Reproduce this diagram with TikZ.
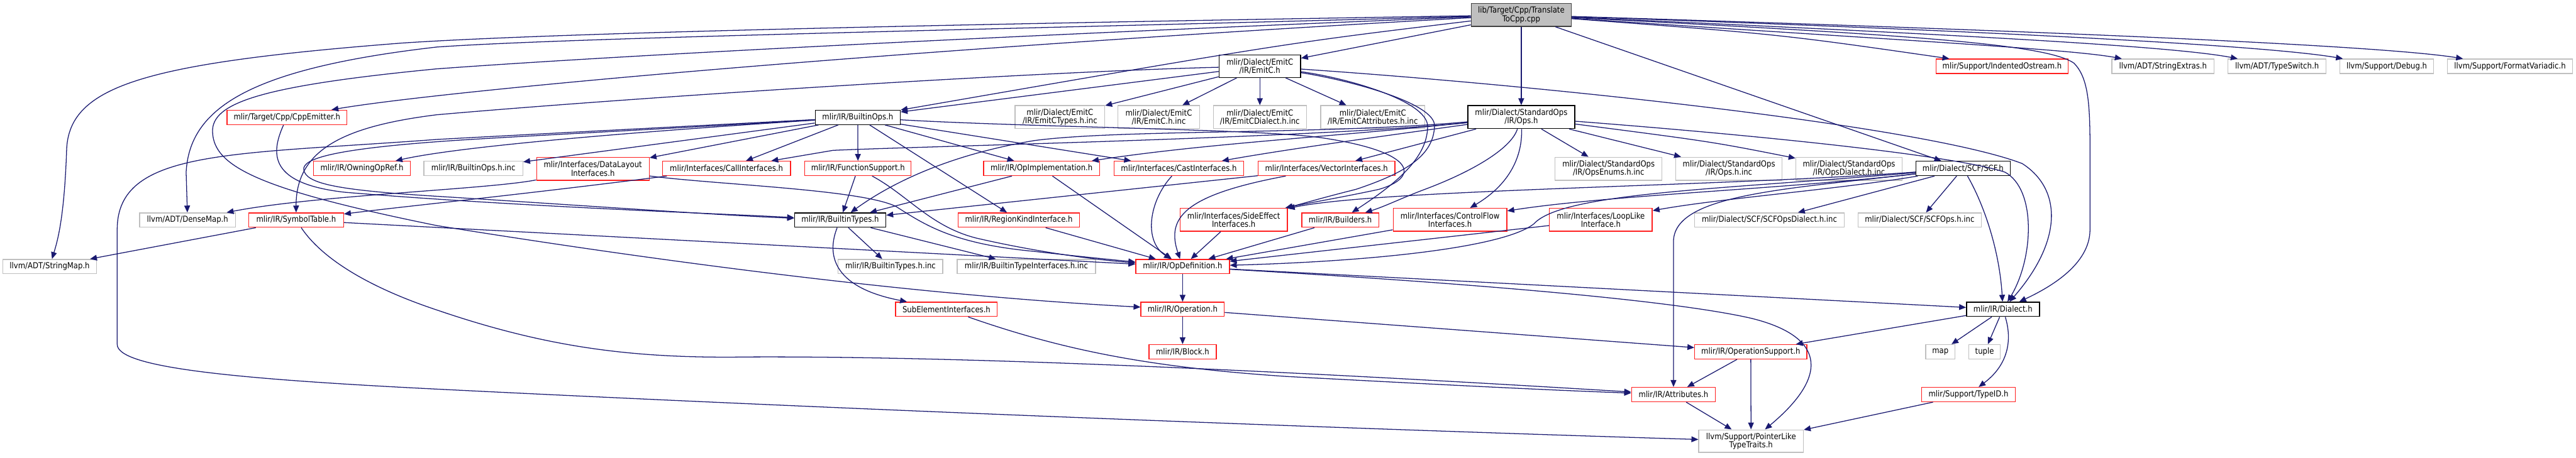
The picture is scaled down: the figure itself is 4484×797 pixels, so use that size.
\documentclass[tikz,border=0pt]{standalone}
\usepackage{fontspec}
\setmainfont{DejaVu Sans}[FakeStretch=0.88]
\usetikzlibrary{arrows.meta}
\definecolor{edgec}{RGB}{25,25,112}
\definecolor{grayb}{RGB}{191,191,191}
\definecolor{redb}{RGB}{255,30,30}
\definecolor{topb}{RGB}{64,64,64}
\begin{document}
\begin{tikzpicture}[x=1pt,y=-1pt,
  nb/.style={draw, line width=1.5pt, inner sep=0pt, minimum height=25pt, align=center,
             font=\fontsize{14.5}{14.5}\selectfont, fill=white},
  gb/.style={nb, draw=grayb},
  rb/.style={nb, draw=redb},
  kb/.style={nb, draw=black},
  tb/.style={nb, draw=topb, fill=grayb},
  two/.style={minimum height=40pt},
  e/.style={draw=edgec, line width=1.4pt, -{Triangle[length=12pt,width=10pt]}}]
\useasboundingbox (0,0) rectangle (4484,797);
% ---------- nodes ----------
\node[tb, two, minimum width=174pt] (T) at (2648,26) {lib/Target/Cpp/Translate\\ToCpp.cpp};
\node[kb, two, minimum width=142pt, minimum height=39pt] (EmitC) at (2193,115.5) {mlir/Dialect/EmitC\\/IR/EmitC.h};
\node[rb, minimum width=230pt] (IndOst) at (3485,115.5) {mlir/Support/IndentedOstream.h};
\node[gb, minimum width=178pt] (StrExt) at (3765,115.5) {llvm/ADT/StringExtras.h};
\node[gb, minimum width=171pt] (TypeSw) at (3963.5,115.5) {llvm/ADT/TypeSwitch.h};
\node[gb, minimum width=163pt] (Debug) at (4154.5,115.5) {llvm/Support/Debug.h};
\node[gb, minimum width=218pt] (FmtVar) at (4369,115.5) {llvm/Support/FormatVariadic.h};
\node[rb, minimum width=209pt] (CppEm) at (499.5,204.5) {mlir/Target/Cpp/CppEmitter.h};
\node[kb, minimum width=148pt] (BOps) at (1493,204.5) {mlir/IR/BuiltinOps.h};
\node[gb, two, minimum width=156pt] (EmTypes) at (1845,204) {mlir/Dialect/EmitC\\/IR/EmitCTypes.h.inc};
\node[gb, two, minimum width=142pt] (EmCinc) at (2017,204) {mlir/Dialect/EmitC\\/IR/EmitC.h.inc};
\node[gb, two, minimum width=162pt] (EmDial) at (2193,204) {mlir/Dialect/EmitC\\/IR/EmitCDialect.h.inc};
\node[gb, two, minimum width=181pt] (EmAttr) at (2389.5,204) {mlir/Dialect/EmitC\\/IR/EmitCAttributes.h.inc};
\node[kb, two, minimum width=186pt] (StdOps) at (2648,204) {mlir/Dialect/StandardOps\\/IR/Ops.h};
\node[rb, minimum width=168pt] (Owning) at (630,293.5) {mlir/IR/OwningOpRef.h};
\node[gb, minimum width=172pt] (BOpsInc) at (824,293.5) {mlir/IR/BuiltinOps.h.inc};
\node[rb, two, minimum width=196pt] (DataLay) at (1032,294) {mlir/Interfaces/DataLayout\\Interfaces.h};
\node[rb, minimum width=223pt] (CallIf) at (1264.5,293.5) {mlir/Interfaces/CallInterfaces.h};
\node[rb, minimum width=185pt] (FuncSup) at (1493.5,293.5) {mlir/IR/FunctionSupport.h};
\node[rb, minimum width=202pt] (OpImpl) at (1813,293.5) {mlir/IR/OpImplementation.h};
\node[rb, minimum width=226pt] (CastIf) at (2052,293.5) {mlir/Interfaces/CastInterfaces.h};
\node[rb, minimum width=238pt] (VecIf) at (2309,293.5) {mlir/Interfaces/VectorInterfaces.h};
\node[gb, two, minimum width=186pt] (OpsEnum) at (2800,294) {mlir/Dialect/StandardOps\\/IR/OpsEnums.h.inc};
\node[gb, two, minimum width=185pt] (OpsInc) at (3009.5,294) {mlir/Dialect/StandardOps\\/IR/Ops.h.inc};
\node[gb, two, minimum width=185pt] (OpsDial) at (3218.5,294) {mlir/Dialect/StandardOps\\/IR/OpsDialect.h.inc};
\node[kb, minimum width=164pt] (SCF) at (3417,293.5) {mlir/Dialect/SCF/SCF.h};
\node[gb, minimum width=167pt] (DenseMap) at (326.5,383.5) {llvm/ADT/DenseMap.h};
\node[rb, minimum width=165pt] (SymTab) at (515.5,383.5) {mlir/IR/SymbolTable.h};
\node[kb, minimum width=159pt] (BTypes) at (1462.5,383.5) {mlir/IR/BuiltinTypes.h};
\node[rb, minimum width=211pt] (RegionK) at (1773.5,383.5) {mlir/IR/RegionKindInterface.h};
\node[rb, two, minimum width=187pt] (SideEff) at (2147.5,383) {mlir/Interfaces/SideEffect\\Interfaces.h};
\node[rb, minimum width=134pt] (Builders) at (2333,383.5) {mlir/IR/Builders.h};
\node[rb, two, minimum width=198pt] (CtrlFlow) at (2524,383) {mlir/Interfaces/ControlFlow\\Interfaces.h};
\node[rb, two, minimum width=179pt] (LoopLike) at (2786.5,383) {mlir/Interfaces/LoopLike\\Interface.h};
\node[gb, minimum width=260pt] (SCFDial) at (3080,383.5) {mlir/Dialect/SCF/SCFOpsDialect.h.inc};
\node[gb, minimum width=215pt] (SCFOps) at (3341.5,383.5) {mlir/Dialect/SCF/SCFOps.h.inc};
\node[gb, minimum width=163pt] (StrMap) at (86.5,464.5) {llvm/ADT/StringMap.h};
\node[gb, minimum width=182pt] (BTypesInc) at (1550,464.5) {mlir/IR/BuiltinTypes.h.inc};
\node[gb, minimum width=241pt] (BTIfInc) at (1786.5,464.5) {mlir/IR/BuiltinTypeInterfaces.h.inc};
\node[rb, minimum width=163pt] (OpDef) at (2058.5,464.5) {mlir/IR/OpDefinition.h};
\node[rb, minimum width=177pt] (SubEl) at (1647.5,539) {SubElementInterfaces.h};
\node[rb, minimum width=145pt] (Operation) at (2058.5,539) {mlir/IR/Operation.h};
\node[kb, minimum width=127pt] (Dialect) at (3486.5,539) {mlir/IR/Dialect.h};
\node[rb, minimum width=117pt] (Block) at (2058.5,613) {mlir/IR/Block.h};
\node[rb, minimum width=195pt] (OpSupp) at (3047.5,613) {mlir/IR/OperationSupport.h};
\node[gb, minimum width=51pt] (map) at (3377.5,613) {map};
\node[gb, minimum width=55pt] (tuple) at (3454.5,613) {tuple};
\node[rb, minimum width=146pt] (Attr) at (2913,687.5) {mlir/IR/Attributes.h};
\node[rb, minimum width=163pt] (TypeID) at (3426.5,687.5) {mlir/Support/TypeID.h};
\node[gb, two, minimum width=182pt, minimum height=39pt] (PtrLike) at (3048,768.5) {llvm/Support/PointerLike\\TypeTraits.h};
% ---------- edges from the source file ----------
\draw[e] (T) -- (EmitC);
\draw[e] (T) -- (StdOps);
\draw[e] (T) -- (SCF);
\draw[e] (T) .. controls (2240,75) .. (BOps);
\draw[e] (T) .. controls (1500,90) and (760,160) .. (CppEm);
\draw[e] (T) .. controls (1800,40) and (1000,55) .. (700,75) .. controls (250,110) and (121,150) .. (116,260) .. controls (112,380) and (100,420) .. (StrMap);
\draw[e] (T) .. controls (1800,50) and (1000,65) .. (760,82) .. controls (430,120) and (330,190) .. (324,300) -- (DenseMap);
\draw[e] (T) .. controls (1800,60) and (1100,95) .. (760,120) .. controls (450,150) and (368,180) .. (370,230) .. controls (372,290) and (450,330) .. (760,393) .. controls (1300,480) and (1700,520) .. (Operation);
\draw[e] (T) .. controls (3100,60) .. (IndOst);
\draw[e] (T) .. controls (3300,70) and (3600,85) .. (StrExt);
\draw[e] (T) .. controls (3400,60) and (3780,80) .. (TypeSw);
\draw[e] (T) .. controls (3500,55) and (3950,80) .. (Debug);
\draw[e] (T) .. controls (3600,55) and (4150,80) .. (FmtVar);
\draw[e] (T) .. controls (3300,60) and (3560,75) .. (3610,110) .. controls (3640,140) and (3638,200) .. (3638,300) -- (3638,400) .. controls (3638,460) and (3570,500) .. (Dialect);
% ---------- EmitC.h ----------
\draw[e] (EmitC) -- (BOps);
\draw[e] (EmitC) -- (EmTypes);
\draw[e] (EmitC) -- (EmCinc);
\draw[e] (EmitC) -- (EmDial);
\draw[e] (EmitC) -- (EmAttr);
\draw[e] (EmitC) .. controls (1800,125) and (1100,170) .. (760,200) .. controls (600,220) and (515,260) .. (SymTab);
\draw[e] (EmitC) .. controls (2700,150) and (3350,220) .. (3520,285) .. controls (3590,330) and (3590,420) .. (Dialect);
\draw[e] (EmitC) .. controls (2350,140) and (2500,180) .. (2497,220) .. controls (2495,270) and (2450,300) .. (2360,330) .. controls (2300,345) and (2260,357) .. (SideEff);
\draw[e] (EmitC) .. controls (2340,135) and (2485,175) .. (2485,220) .. controls (2485,275) and (2430,320) .. (Builders);
% ---------- StandardOps/IR/Ops.h ----------
\draw[e] (StdOps) -- (OpsEnum);
\draw[e] (StdOps) -- (OpsInc);
\draw[e] (StdOps) .. controls (2980,247) .. (OpsDial);
\draw[e] (StdOps) .. controls (3050,235) and (3400,270) .. (3490,300) .. controls (3545,330) and (3540,450) .. (Dialect);
\draw[e] (StdOps) -- (VecIf);
\draw[e] (StdOps) .. controls (2630,260) and (2560,300) .. (2480,330) .. controls (2440,345) and (2410,360) .. (Builders);
\draw[e] (StdOps) .. controls (2650,270) and (2630,320) .. (CtrlFlow);
\draw[e] (StdOps) .. controls (2300,240) and (1600,255) .. (1450,262) -- (CallIf);
\draw[e] (StdOps) .. controls (2300,240) and (2100,250) .. (OpImpl);
\draw[e] (StdOps) .. controls (2350,245) and (2230,262) .. (CastIf);
\draw[e] (StdOps) .. controls (2300,235) and (1950,225) .. (1800,245) .. controls (1650,270) and (1550,320) .. (BTypes);
% ---------- BuiltinOps.h ----------
\draw[e] (BOps) .. controls (1100,225) and (850,238) .. (760,243) .. controls (400,270) and (204,260) .. (204,400) -- (204,600) .. controls (204,640) and (400,660) .. (760,678) .. controls (1600,720) and (2500,752) .. (PtrLike);
\draw[e] (BOps) .. controls (1100,228) and (850,240) .. (760,247) .. controls (560,262) and (520,280) .. (530,300) .. controls (540,322) and (600,332) .. (760,342) .. controls (1000,357) and (1250,375) .. (BTypes);
\draw[e] (BOps) .. controls (1100,230) and (800,255) .. (Owning);
\draw[e] (BOps) -- (BOpsInc);
\draw[e] (BOps) -- (DataLay);
\draw[e] (BOps) -- (CallIf);
\draw[e] (BOps) -- (FuncSup);
\draw[e] (BOps) -- (OpImpl);
\draw[e] (BOps) -- (CastIf);
\draw[e] (BOps) -- (RegionK);
\draw[e] (BOps) .. controls (1800,222) and (2200,225) .. (2300,240) .. controls (2470,265) and (2470,310) .. (2400,330) .. controls (2330,345) and (2270,355) .. (SideEff);
% ---------- CppEmitter.h ----------
\draw[e] (CppEm) .. controls (470,270) and (470,320) .. (600,335) .. controls (900,360) and (1250,372) .. (BTypes);
% ---------- level 3 ----------
\draw[e] (DataLay) .. controls (850,330) and (550,340) .. (DenseMap);
\draw[e] (DataLay) .. controls (1250,322) and (1500,330) .. (1560,360) .. controls (1610,392) and (1660,425) .. (1800,438) .. controls (1880,447) and (1930,452) .. (OpDef);
\draw[e] (CallIf) .. controls (900,340) and (700,360) .. (SymTab);
\draw[e] (FuncSup) -- (BTypes);
\draw[e] (FuncSup) .. controls (1580,340) and (1620,395) .. (1700,415) .. controls (1800,438) and (1900,452) .. (OpDef);
\draw[e] (OpImpl) -- (BTypes);
\draw[e] (OpImpl) .. controls (1980,410) .. (OpDef);
\draw[e] (CastIf) .. controls (2000,350) and (1990,420) .. (OpDef);
\draw[e] (VecIf) -- (BTypes);
\draw[e] (VecIf) .. controls (2060,340) and (2030,380) .. (OpDef);
% ---------- SCF.h ----------
\draw[e] (SCF) -- (SCFDial);
\draw[e] (SCF) -- (SCFOps);
\draw[e] (SCF) .. controls (3450,350) and (3480,430) .. (Dialect);
\draw[e] (SCF) .. controls (3200,330) and (3000,345) .. (LoopLike);
\draw[e] (SCF) .. controls (3100,330) and (2800,340) .. (CtrlFlow);
\draw[e] (SCF) .. controls (3000,325) and (2400,330) .. (SideEff);
\draw[e] (SCF) .. controls (3100,330) and (2915,340) .. (2913,420) -- (Attr);
\draw[e] (SCF) .. controls (3000,330) and (2720,335) .. (2670,390) .. controls (2620,430) and (2400,455) .. (OpDef);
% ---------- level 4 ----------
\draw[e] (SymTab) -- (StrMap);
\draw[e] (SymTab) -- (OpDef);
\draw[e] (SymTab) .. controls (560,450) and (640,500) .. (760,540) .. controls (950,605) and (1100,625) .. (1300,622) .. controls (1700,620) and (2300,650) .. (Attr);
\draw[e] (BTypes) -- (BTypesInc);
\draw[e] (BTypes) -- (BTIfInc);
\draw[e] (BTypes) .. controls (1440,440) and (1445,500) .. (SubEl);
\draw[e] (RegionK) -- (OpDef);
\draw[e] (SideEff) -- (OpDef);
\draw[e] (Builders) -- (OpDef);
\draw[e] (CtrlFlow) -- (OpDef);
\draw[e] (LoopLike) -- (OpDef);
% ---------- lower part ----------
\draw[e] (OpDef) -- (Operation);
\draw[e] (OpDef) -- (Dialect);
\draw[e] (OpDef) .. controls (2500,490) and (2900,520) .. (3050,555) .. controls (3170,585) and (3190,650) .. (PtrLike);
\draw[e] (SubEl) .. controls (1850,610) and (2000,640) .. (2240,656) .. controls (2500,670) and (2700,680) .. (Attr);
\draw[e] (Operation) -- (Block);
\draw[e] (Operation) -- (OpSupp);
\draw[e] (Dialect) -- (OpSupp);
\draw[e] (Dialect) -- (map);
\draw[e] (Dialect) -- (tuple);
\draw[e] (Dialect) .. controls (3505,600) and (3490,640) .. (TypeID);
\draw[e] (OpSupp) -- (Attr);
\draw[e] (OpSupp) -- (PtrLike);
\draw[e] (Attr) -- (PtrLike);
\draw[e] (TypeID) -- (PtrLike);
\end{tikzpicture}
\end{document}
